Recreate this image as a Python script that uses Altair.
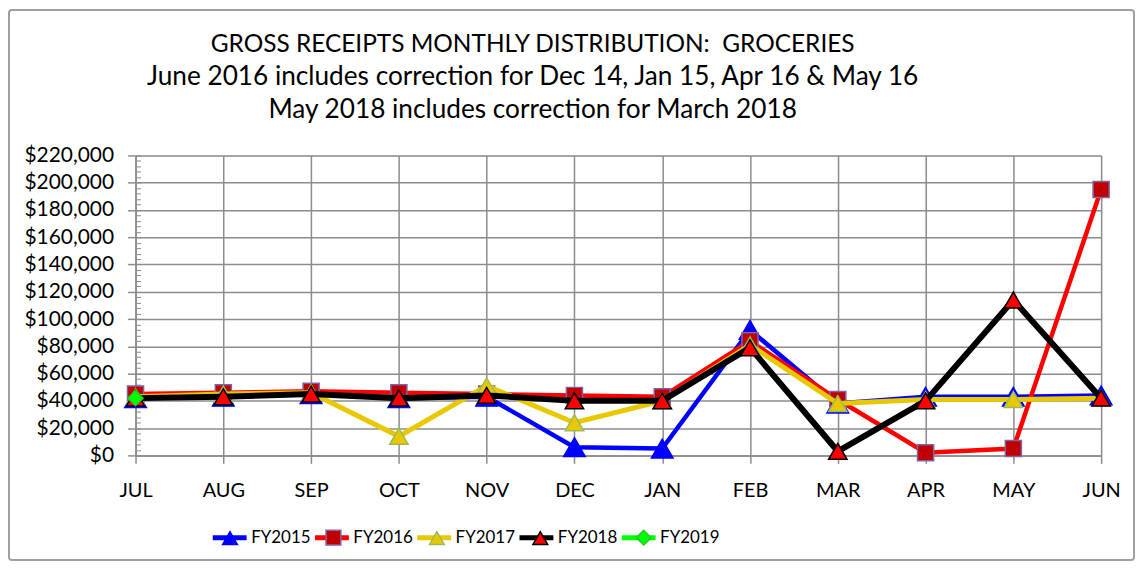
import altair as alt
import pandas as pd

# ---------------- data ----------------
months = ["JUL", "AUG", "SEP", "OCT", "NOV", "DEC", "JAN", "FEB", "MAR", "APR", "MAY", "JUN"]
series_names = ["FY2015", "FY2016", "FY2017", "FY2018", "FY2019"]

fy2015 = [42000, 43000, 45000, 42000, 43000, 6000, 5000, 92000, 38000, 43000, 43000, 44000]
fy2016 = [45000, 46000, 47000, 46000, 45000, 44000, 43000, 84000, 41000, 2000, 5000, 195000]
fy2017 = [43000, 45000, 46000, 14000, 51000, 24000, 40000, 81000, 38000, 41000, 41000, 42000]
fy2018 = [42000, 43000, 45000, 42000, 44000, 40000, 40000, 79000, 3000, 40000, 114000, 42000]
fy2019 = [42000]

y_ticks = [0, 20000, 40000, 60000, 80000, 100000, 120000, 140000, 160000, 180000, 200000, 220000]
y_minor = list(range(0, 220001, 4000))

title_main = "GROSS RECEIPTS MONTHLY DISTRIBUTION:\u00a0 GROCERIES"
title_sub = [
    "June 2016 includes correction for Dec 14, Jan 15, Apr 16 & May 16",
    "May 2018 includes correction for March 2018",
]

# ---------------- styles ----------------
line_colors = ["#0000FF", "#FF0000", "#E8C800", "#000000", "#00FF00"]
marker_fill = ["#0000FF", "#C00000", "#E8C800", "#FF0000", "#00FF00"]
marker_stroke = ["#0000FF", "#8064A2", "#9BBB59", "#000000", "#22CC22"]
marker_shape = ["triangle-up", "square", "triangle-up", "triangle-up", "diamond"]
marker_size = [470, 260, 340, 340, 230]
line_width = [4.5, 4.5, 5, 6, 4.5]

FONT = "Lato"
GRID = "#8C8C8C"

# line legend uses its own (trailing-space) labels so it is kept apart from the marker legend
line_labels = [s + " " for s in series_names]

values_by_series = dict(zip(series_names, [fy2015, fy2016, fy2017, fy2018, fy2019]))
rows = []
for s, ls in zip(series_names, line_labels):
    for m, v in zip(months, values_by_series[s]):
        rows.append({"month": m, "series": s, "line_series": ls, "value": v})
df = pd.DataFrame(rows)

PW, PH = 969, 301

x_scale = alt.Scale(type="point", padding=0, domain=months)
y_scale = alt.Scale(domain=[0, 220000], nice=False, zero=True)

x_axis_main = alt.Axis(
    title=None, labelAngle=0, grid=True, gridColor=GRID, gridWidth=1.5,
    domainColor=GRID, domainWidth=1.5, tickColor=GRID, tickWidth=1.5, tickSize=8,
    labelFont=FONT, labelFontSize=20, labelColor="black", labelPadding=17,
)
y_axis_main = alt.Axis(
    title=None, values=y_ticks, format="$,.0f", grid=True, gridColor=GRID, gridWidth=1.5,
    domainColor=GRID, domainWidth=1.5, tickColor=GRID, tickWidth=1.5, tickSize=8,
    labelFont=FONT, labelFontSize=21, labelColor="black", labelPadding=14,
)
y_axis_minor = alt.Axis(
    title=None, orient="right", offset=-PW, values=y_minor, labels=False, grid=False,
    domain=False, tickColor=GRID, tickWidth=1, tickSize=5,
)

LEG_X = 75
LEG_Y = 364
line_legend = alt.Legend(
    title=None, orient="none", legendX=LEG_X, legendY=LEG_Y, direction="horizontal",
    columns=5, symbolType="stroke", symbolSize=1156, symbolStrokeWidth=5,
    labelFont=FONT, labelFontSize=17, labelColor="black", labelOffset=2,
    columnPadding=-6.4, padding=0,
)
point_legend = alt.Legend(
    title=None, orient="none", legendX=LEG_X, legendY=LEG_Y + 11, direction="horizontal",
    columns=5, symbolSize=220, symbolStrokeWidth=1.5, symbolOffset=11.3,
    labelExpr="''", labelFont=FONT, labelFontSize=15, labelOffset=0,
    columnPadding=72.8, padding=0,
)

line_color_scale = alt.Scale(domain=line_labels, range=line_colors)
fill_scale = alt.Scale(domain=series_names, range=marker_fill)
stroke_scale = alt.Scale(domain=series_names, range=marker_stroke)
shape_scale = alt.Scale(domain=series_names, range=marker_shape)

border = alt.Chart(pd.DataFrame({"k": [0]})).mark_rect(
    fill="transparent", stroke="#A0A0A0", strokeWidth=2, cornerRadius=3
).encode(
    x=alt.value(-127), x2=alt.value(1002), y=alt.value(-146), y2=alt.value(406)
)

layers = [border]
for i, s in enumerate(series_names):
    base = alt.Chart(df).transform_filter(alt.datum.series == s)
    first = i == 0
    ln = base.mark_line(strokeWidth=line_width[i], strokeJoin="miter").encode(
        x=alt.X("month:N", scale=x_scale, axis=x_axis_main),
        y=alt.Y("value:Q", scale=y_scale, axis=y_axis_main if first else None),
        color=alt.Color("line_series:N", scale=line_color_scale, legend=line_legend),
    )
    pt = base.mark_point(filled=True, opacity=1, strokeWidth=1.5, size=marker_size[i]).encode(
        x=alt.X("month:N", scale=x_scale, axis=x_axis_main),
        y=alt.Y("value:Q", scale=y_scale, axis=y_axis_minor if first else None),
        fill=alt.Fill("series:N", scale=fill_scale, legend=point_legend),
        stroke=alt.Stroke("series:N", scale=stroke_scale, legend=point_legend),
        shape=alt.Shape("series:N", scale=shape_scale, legend=point_legend),
    )
    layers += [ln, pt]

chart = alt.layer(*layers).resolve_axis(y="independent").properties(
    width=PW, height=PH,
    padding=0,
    title=alt.Title(
        text=title_main, subtitle=title_sub,
        font=FONT, fontSize=24.5, fontWeight="normal", color="black", lineHeight=33,
        subtitleFont=FONT, subtitleFontSize=26.3, subtitleFontWeight="normal",
        subtitleColor="black", subtitleLineHeight=33, subtitlePadding=7,
        anchor="middle", dx=-86, offset=-116,
    ),
).configure_view(stroke=None).configure(background="white")

chart.save("out.html", embed_options={"renderer": "svg", "actions": False})
